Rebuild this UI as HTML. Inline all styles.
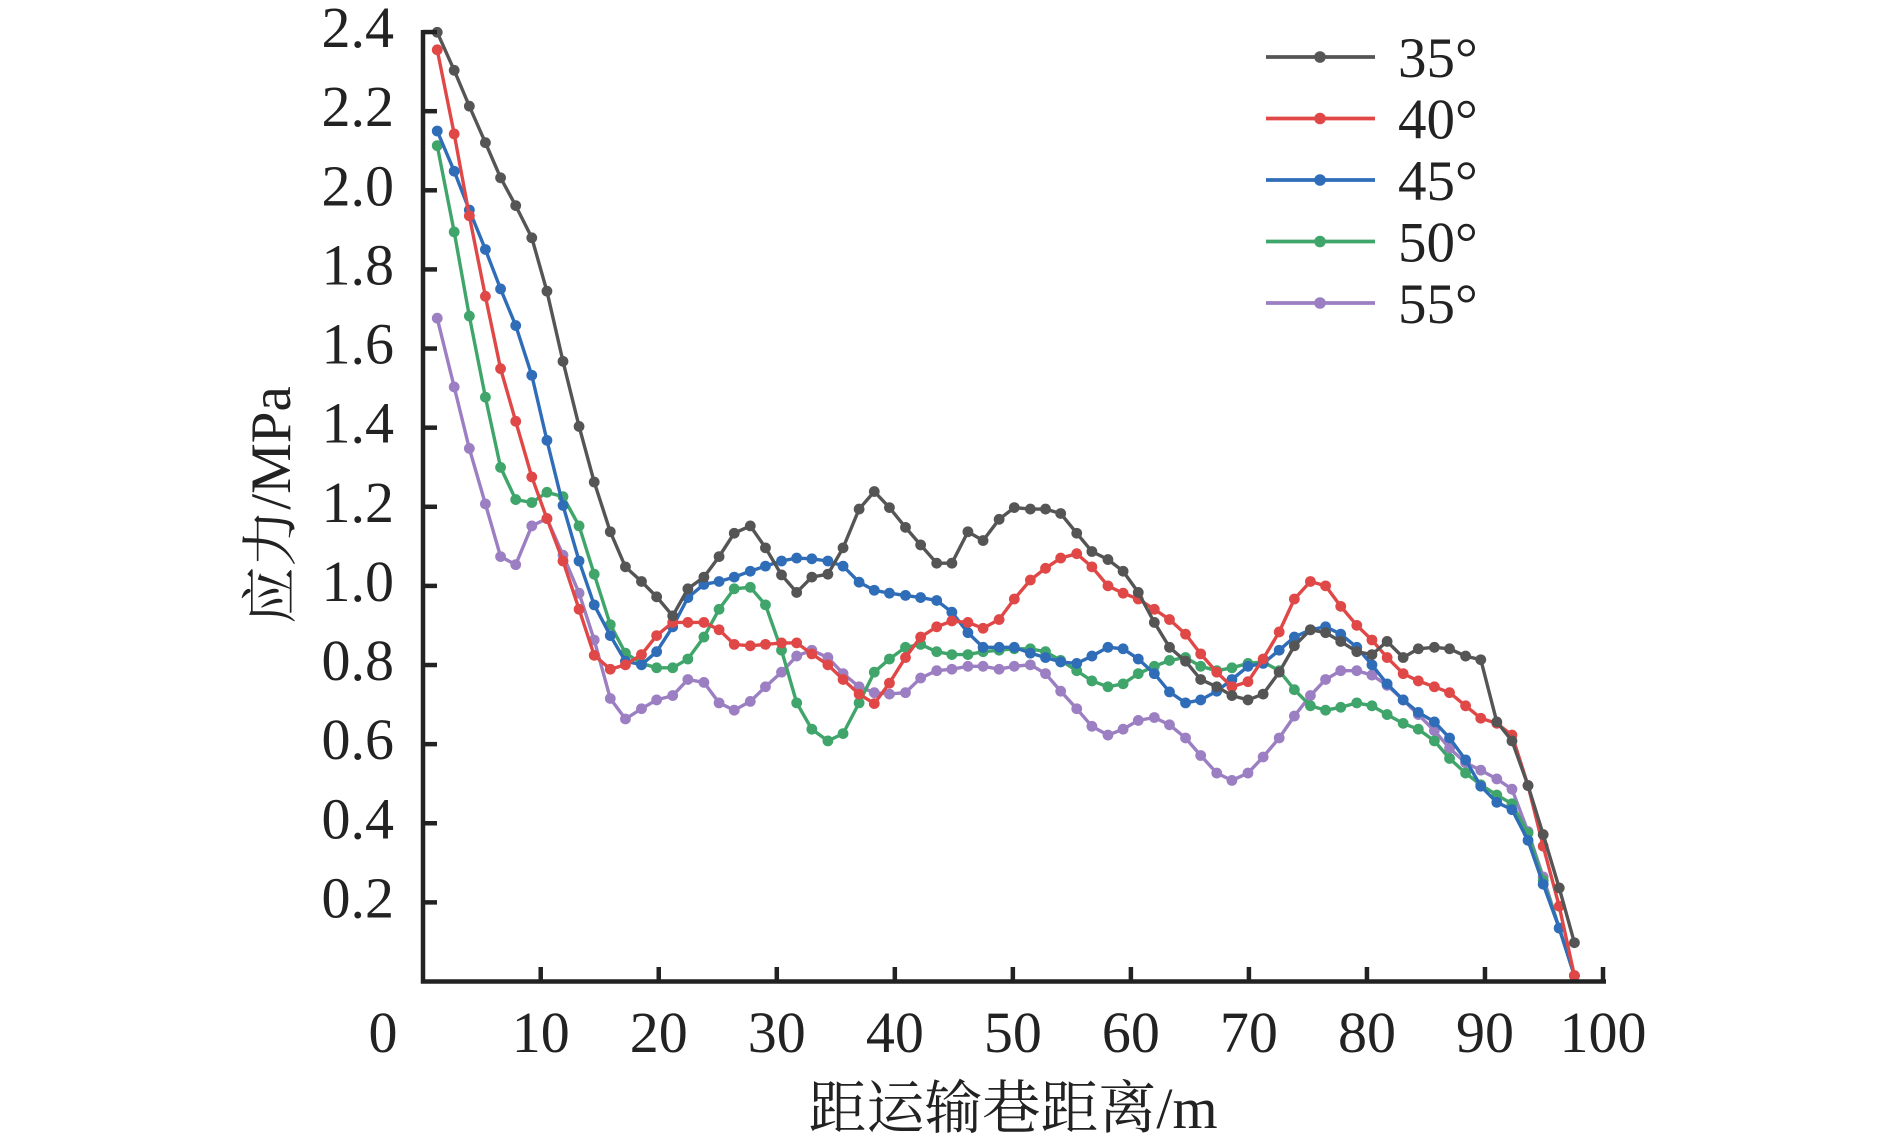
<!DOCTYPE html>
<html><head><meta charset="utf-8"><style>body{margin:0;background:#fff}svg{display:block}</style></head>
<body>
<svg id="s" width="1890" height="1146" xmlns="http://www.w3.org/2000/svg" font-family="'Liberation Serif','Noto Serif CJK SC',serif">
<g id="plot"></g>
<g stroke="#222" stroke-width="4.5" fill="none">
<polyline points="423,30 423,981.5 1606,981.5"/>
</g>
<g id="ticks" stroke="#222" stroke-width="4.5"></g>
<g font-size="58" fill="#222" text-anchor="end" id="yl"></g>
<g font-size="58" fill="#222" text-anchor="middle" id="xl"></g>
<text x="1013" y="1128" font-size="58" text-anchor="middle" fill="#222">距运输巷距离/m</text>
<text transform="translate(290,505) rotate(-90)" font-size="57" text-anchor="middle" fill="#222">应力/MPa</text>
<g id="leg" font-size="57" fill="#222"></g>
</svg>
<script>
const S={
"#555":[[153,45],[172,97],[189,146],[207,196],[224,244],[241,282],[259,326],[276,399],[294,495],[312,584],[329,660],[347,728],[364,776],[382,796],[399,817],[417,843],[434,806],[452,790],[469,762],[486,730],[504,720],[521,750],[539,787],[556,811],[573,790],[591,786],[608,750],[626,697],[643,673],[660,695],[678,722],[695,746],[713,771],[730,771],[748,728],[765,740],[783,711],[800,695],[818,697],[835,697],[852,703],[870,730],[887,755],[905,766],[922,782],[939,811],[957,852],[974,886],[992,905],[1009,930],[1027,940],[1044,952],[1062,958],[1079,950],[1097,920],[1114,884],[1132,862],[1149,866],[1166,878],[1184,892],[1201,896],[1218,878],[1236,900],[1253,888],[1271,886],[1288,888],[1306,898],[1323,903],[1341,988],[1358,1014],[1376,1075],[1393,1142],[1411,1215],[1428,1290]],
"#e04848":[[153,69],[172,184],[189,296],[207,406],[224,505],[241,577],[259,653],[276,710],[294,768],[312,834],[329,897],[347,916],[364,910],[382,896],[399,870],[417,852],[434,852],[452,852],[469,862],[486,882],[504,884],[521,882],[539,880],[556,880],[573,895],[591,910],[608,930],[626,950],[643,963],[660,935],[678,900],[695,872],[713,858],[730,850],[748,852],[765,860],[783,848],[800,820],[818,794],[835,778],[852,764],[870,758],[887,776],[905,802],[922,812],[939,820],[957,834],[974,848],[992,868],[1009,895],[1027,920],[1044,940],[1062,933],[1079,902],[1097,865],[1114,820],[1132,796],[1149,802],[1166,830],[1184,856],[1201,876],[1218,900],[1236,922],[1253,932],[1271,940],[1288,948],[1306,966],[1323,983],[1341,990],[1358,1006],[1376,1075],[1393,1158],[1411,1240],[1428,1335]],
"#2f6db8":[[153,180],[172,235],[189,288],[207,342],[224,396],[241,446],[259,514],[276,603],[294,692],[312,768],[329,828],[347,870],[364,905],[382,910],[399,892],[417,858],[434,818],[452,800],[469,796],[486,790],[504,782],[521,775],[539,768],[556,764],[573,765],[591,768],[608,775],[626,797],[643,808],[660,812],[678,815],[695,818],[713,822],[730,838],[748,866],[765,886],[783,886],[800,886],[818,894],[835,900],[852,906],[870,908],[887,898],[905,886],[922,888],[939,902],[957,922],[974,947],[992,962],[1009,958],[1027,946],[1044,930],[1062,912],[1079,908],[1097,890],[1114,872],[1132,862],[1149,858],[1166,868],[1184,886],[1201,910],[1218,936],[1236,958],[1253,975],[1271,988],[1288,1010],[1306,1040],[1323,1076],[1341,1098],[1358,1108],[1376,1150],[1393,1210],[1411,1270],[1428,1335]],
"#3fa56a":[[153,200],[172,318],[189,433],[207,544],[224,640],[241,684],[259,688],[276,674],[294,680],[312,720],[329,786],[347,855],[364,894],[382,908],[399,914],[417,914],[434,902],[452,872],[469,834],[486,806],[504,804],[521,828],[539,890],[556,962],[573,998],[591,1014],[608,1004],[626,962],[643,920],[660,902],[678,886],[695,882],[713,892],[730,896],[748,896],[765,892],[783,890],[800,888],[818,888],[835,892],[852,904],[870,918],[887,932],[905,940],[922,936],[939,922],[957,912],[974,904],[992,900],[1009,912],[1027,918],[1044,914],[1062,908],[1079,906],[1097,918],[1114,944],[1132,966],[1149,972],[1166,968],[1184,962],[1201,966],[1218,978],[1236,990],[1253,998],[1271,1014],[1288,1038],[1306,1058],[1323,1074],[1341,1088],[1358,1100],[1376,1140],[1393,1205],[1411,1270],[1428,1335]],
"#9b7fc2":[[153,436],[172,530],[189,614],[207,690],[224,762],[241,773],[259,720],[276,710],[294,760],[312,812],[329,876],[347,956],[364,984],[382,970],[399,958],[417,952],[434,930],[452,934],[469,962],[486,972],[504,960],[521,940],[539,920],[556,898],[573,890],[591,900],[608,922],[626,940],[643,948],[660,950],[678,948],[695,928],[713,918],[730,916],[748,912],[765,912],[783,916],[800,912],[818,910],[835,922],[852,946],[870,970],[887,994],[905,1006],[922,998],[939,986],[957,982],[974,992],[992,1010],[1009,1034],[1027,1058],[1044,1068],[1062,1058],[1079,1036],[1097,1010],[1114,980],[1132,952],[1149,930],[1166,918],[1184,918],[1201,924],[1218,938],[1236,958],[1253,978],[1271,1000],[1288,1024],[1306,1044],[1323,1054],[1341,1066],[1358,1080],[1376,1138],[1393,1200],[1411,1270],[1428,1335]]};
const NS="http://www.w3.org/2000/svg";
function el(t,a,p){const e=document.createElementNS(NS,t);for(const k in a)e.setAttribute(k,a[k]);p.appendChild(e);return e;}
const fx=z=>422.7+(z-136.7)*0.8919, fy=z=>981.5-(1343-z)*0.7313;
const plot=document.getElementById('plot');
const cols=Object.keys(S);
for(const c of cols.slice().reverse()){
 const pts=S[c].map(p=>fx(p[0]).toFixed(1)+','+fy(p[1]).toFixed(1)).join(' ');
 el('polyline',{points:pts,fill:'none',stroke:c,'stroke-width':3.4},plot);
 for(const p of S[c]) el('circle',{cx:fx(p[0]),cy:fy(p[1]),r:5.4,fill:c},plot);
}
const tk=document.getElementById('ticks'),yl=document.getElementById('yl'),xl=document.getElementById('xl');
for(let i=1;i<=12;i++){const v=i*0.2,y=981.5-v*395.6;
 el('line',{x1:423,y1:y,x2:437,y2:y},tk);
 el('text',{x:394,y:y+15},yl).textContent=v.toFixed(1);}
for(let i=1;i<=10;i++){const x=422.7+i*118.03;
 el('line',{x1:x,y1:981.5,x2:x,y2:967},tk);
 el('text',{x:x,y:1052},xl).textContent=i*10;}
el('text',{x:383,y:1052},xl).textContent='0';
const lg=document.getElementById('leg');
const labs=['35°','40°','45°','50°','55°'];
cols.forEach((c,i)=>{const y=57+i*61.5;
 el('line',{x1:1266,y1:y,x2:1375,y2:y,stroke:c,'stroke-width':3.8},lg);
 el('circle',{cx:1320,cy:y,r:5.8,fill:c},lg);
 el('text',{x:1398,y:y+20},lg).textContent=labs[i];});
</script>
</body></html>
